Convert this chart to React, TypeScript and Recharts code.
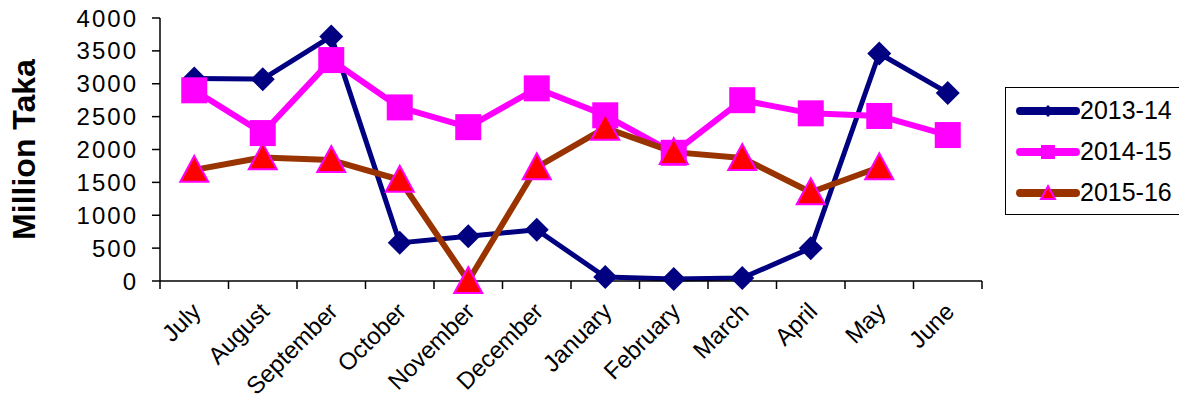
import { LineChart, Line, XAxis, YAxis } from 'recharts';

const months = ['July', 'August', 'September', 'October', 'November', 'December', 'January', 'February', 'March', 'April', 'May', 'June'];
const fy1314 = [3080, 3070, 3720, 580, 680, 780, 60, 30, 45, 500, 3460, 2860];
const fy1415 = [2900, 2250, 3360, 2640, 2340, 2930, 2520, 1950, 2750, 2550, 2510, 2220];
const fy1516: (number | null)[] = [1690, 1880, 1840, 1540, 0, 1730, 2330, 1960, 1870, 1350, 1730, null];
const yTicks = [0, 500, 1000, 1500, 2000, 2500, 3000, 3500, 4000];

const series = [
  { key: 'a', name: '2013-14', color: '#000080', width: 5, marker: 'diamond' },
  { key: 'b', name: '2014-15', color: '#FF00FF', width: 6, marker: 'square' },
  { key: 'c', name: '2015-16', color: '#993300', width: 6, marker: 'triangle' },
];

// months sit in the middle of each band, boundaries get the tick marks
const data = months.map((m, i) => ({ month: m, pos: i + 0.5, a: fy1314[i], b: fy1415[i], c: fy1516[i] }));
const xTicks = months.flatMap((_, i) => [i, i + 0.5]).concat([months.length]);

const FONT = '"Liberation Sans", Arial, sans-serif';

function Marker({ kind, cx, cy, s }: { kind: string; cx: number; cy: number; s: number }) {
  if (kind === 'diamond') {
    const h = s / 2;
    return <polygon points={`${cx},${cy - h} ${cx + h},${cy} ${cx},${cy + h} ${cx - h},${cy}`} fill="#000080" />;
  }
  if (kind === 'square') {
    return <rect x={cx - s / 2} y={cy - s / 2} width={s} height={s} fill="#FF00FF" />;
  }
  const h = s / 2;
  return (
    <polygon
      points={`${cx},${cy - h} ${cx + h},${cy + h * 0.85} ${cx - h},${cy + h * 0.85}`}
      fill="#FF0000"
      stroke="#FF00FF"
      strokeWidth={2}
    />
  );
}

const markerSize: Record<string, number> = { diamond: 24, square: 26, triangle: 28 };

function XTick(props: any) {
  const { x, y, payload } = props;
  const v = payload.value as number;
  if (Number.isInteger(v)) {
    return <line x1={x} y1={y} x2={x} y2={y + 8} stroke="#000" strokeWidth={1.5} />;
  }
  const label = months[Math.floor(v)];
  const ax = x + 8;
  const ay = y + 32;
  return (
    <text x={ax} y={ay} transform={`rotate(-45, ${ax}, ${ay})`} textAnchor="end" fontFamily={FONT} fontSize={24} fill="#000">
      {label}
    </text>
  );
}

function LegendBox() {
  return (
    <div
      style={{
        position: 'absolute',
        left: 1005,
        top: 87,
        width: 176,
        height: 128,
        border: '1.5px solid #000',
        background: '#fff',
        fontFamily: FONT,
        fontSize: 25,
        boxSizing: 'border-box',
        paddingTop: 2,
      }}
    >
      {series.map((s) => (
        <div key={s.key} style={{ display: 'flex', alignItems: 'center', height: 41 }}>
          <svg width={72} height={24} style={{ marginLeft: 2 }}>
            <line x1={12} y1={12} x2={68} y2={12} stroke={s.color} strokeWidth={8} strokeLinecap="round" />
            <Marker kind={s.marker} cx={40} cy={12} s={s.marker === 'diamond' ? 12 : 14} />
          </svg>
          <span style={{ color: '#000' }}>{s.name}</span>
        </div>
      ))}
    </div>
  );
}

export default function App() {
  return (
    <div style={{ position: 'absolute', left: 0, top: 0, width: 1179, height: 409, background: '#fff' }}>
      <LineChart width={1179} height={409} data={data} margin={{ top: 18, right: 197, bottom: 0, left: 0 }}>
        <XAxis
          xAxisId="main"
          dataKey="pos"
          type="number"
          domain={[0, 12]}
          ticks={xTicks}
          interval={0}
          height={128}
          tickSize={0}
          tickMargin={0}
          tick={<XTick />}
          axisLine={{ stroke: '#000', strokeWidth: 1.5 }}
          tickLine={false}
        />
        <XAxis xAxisId="top" orientation="top" type="number" domain={[0, 12]} height={0} tick={false} tickLine={false} axisLine={{ stroke: '#808080', strokeWidth: 2 }} />
        <YAxis
          yAxisId="main"
          domain={[0, 4000]}
          ticks={yTicks}
          interval={0}
          width={160}
          tickSize={8}
          tickMargin={14}
          axisLine={{ stroke: '#000', strokeWidth: 1.5 }}
          tickLine={{ stroke: '#000', strokeWidth: 1.5 }}
          tick={{ fill: '#000', fontSize: 24, fontFamily: FONT, letterSpacing: 2 }}
          label={{
            value: 'Million Taka',
            angle: -90,
            position: 'insideLeft',
            offset: 24,
            style: { fontSize: 32, fontWeight: 'bold', fontFamily: FONT, fill: '#000', textAnchor: 'middle' },
          }}
        />
        <YAxis yAxisId="frame" orientation="right" width={0} domain={[0, 4000]} tick={false} tickLine={false} axisLine={{ stroke: '#808080', strokeWidth: 2 }} />
        {series.map((s) => (
          <Line
            key={s.key}
            xAxisId="main"
            yAxisId="main"
            dataKey={s.key}
            name={s.name}
            stroke={s.color}
            strokeWidth={s.width}
            strokeLinejoin="round"
            isAnimationActive={false}
            dot={(p: any) =>
              p.value == null ? <g key={p.index} /> : (
                <g key={p.index}>
                  <Marker kind={s.marker} cx={p.cx} cy={p.cy} s={markerSize[s.marker]} />
                </g>
              )
            }
            activeDot={false}
          />
        ))}
      </LineChart>
      <LegendBox />
    </div>
  );
}
